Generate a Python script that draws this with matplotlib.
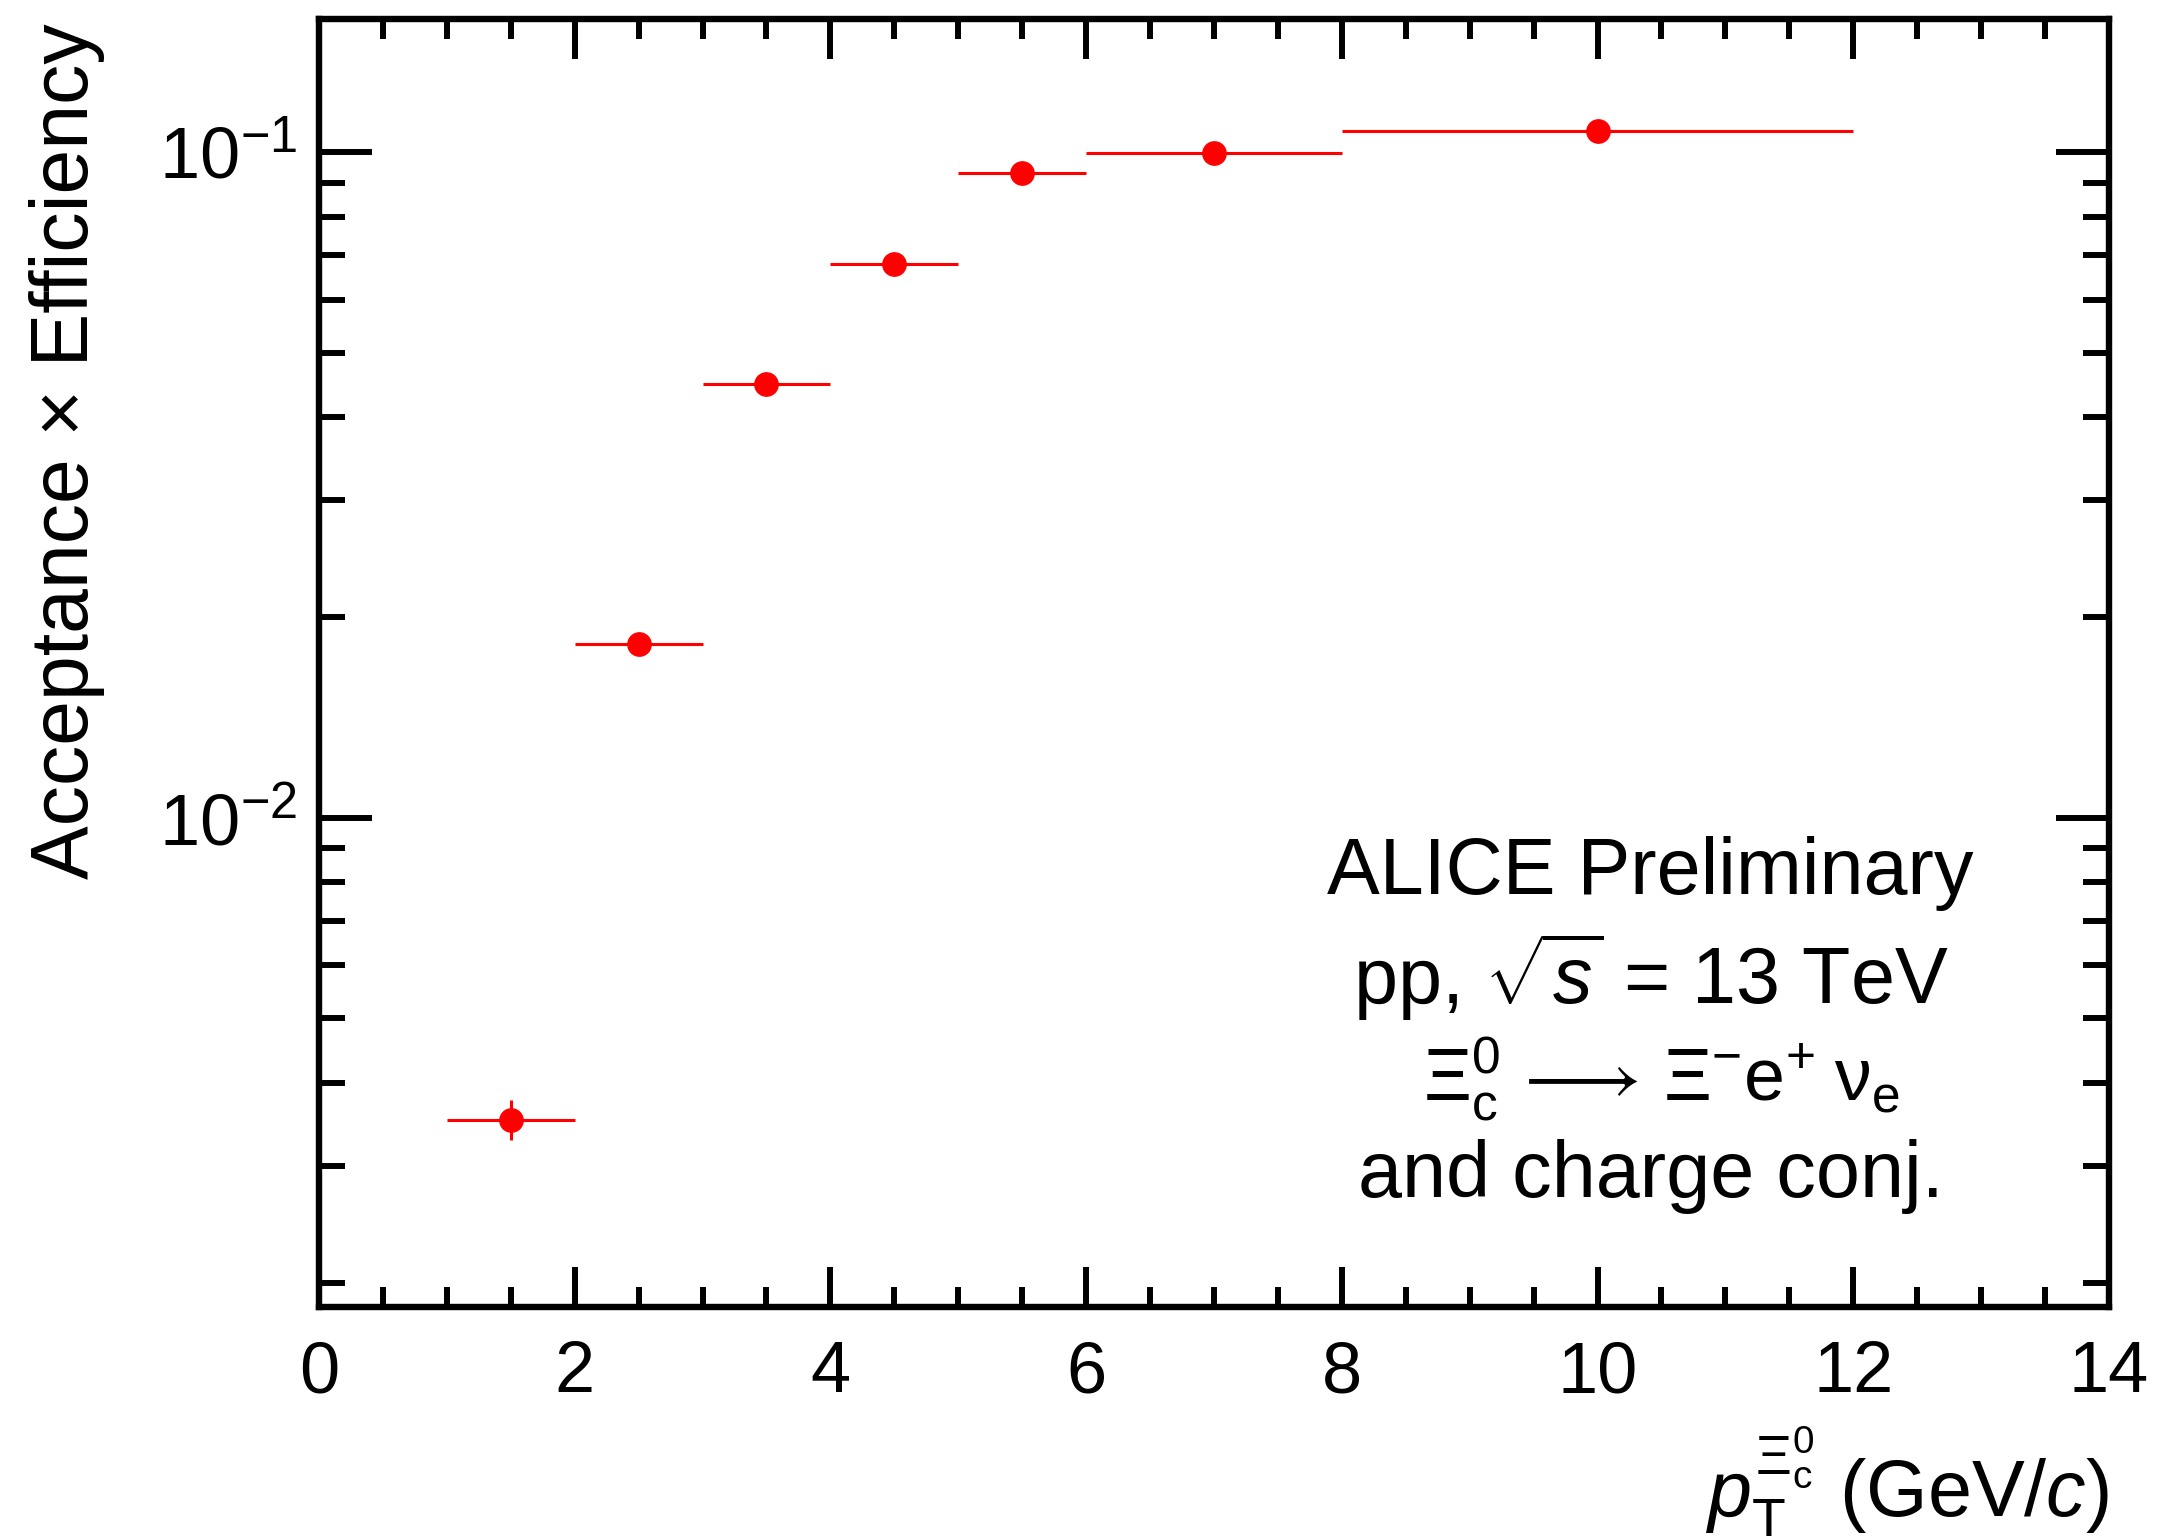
import numpy as np
import matplotlib
matplotlib.use('Agg')
import matplotlib.pyplot as plt
from matplotlib.ticker import MultipleLocator, LogLocator

plt.rcParams['font.family'] = ['Liberation Sans', 'DejaVu Sans']
plt.rcParams['mathtext.fontset'] = 'custom'
plt.rcParams['mathtext.rm'] = 'Liberation Sans'
plt.rcParams['mathtext.it'] = 'Liberation Sans:italic'
plt.rcParams['mathtext.bf'] = 'Liberation Sans:bold'

# pT bins and acceptance x efficiency
pt_lo = [1, 2, 3, 4, 5, 6, 8]
pt_hi = [2, 3, 4, 5, 6, 8, 12]
pt_c = [1.5, 2.5, 3.5, 4.5, 5.5, 7, 10]
acc_eff = [0.00352, 0.01822, 0.0449, 0.0679, 0.0930, 0.0998, 0.1078]
acc_err = [0.00024, 0.0004, 0.0006, 0.0008, 0.001, 0.001, 0.0012]

pt_c = np.array(pt_c)
xerr = [pt_c - np.array(pt_lo), np.array(pt_hi) - pt_c]

fig = plt.figure(figsize=(21.57, 15.36), dpi=100)
ax = fig.add_axes([0.1479, 0.1491, 0.9777 - 0.1479, 0.9876 - 0.1491])

ax.errorbar(pt_c, acc_eff, xerr=xerr, yerr=acc_err, fmt='o', color='red',
            ms=16.8, elinewidth=2.2, capsize=0, mec='red')

ax.set_yscale('log')
ax.set_xlim(0, 14)
ax.set_ylim(0.00184, 0.1586)

ax.xaxis.set_major_locator(MultipleLocator(2))
ax.xaxis.set_minor_locator(MultipleLocator(0.5))
ax.yaxis.set_major_locator(LogLocator(base=10))
ax.yaxis.set_minor_locator(LogLocator(base=10, subs=np.arange(2, 10)))

for s in ax.spines.values():
    s.set_linewidth(4.6)

ax.tick_params(axis='both', which='both', direction='in', top=True, right=True,
               width=4.3, labelsize=52)
ax.tick_params(axis='x', which='major', length=29, pad=24)
ax.tick_params(axis='x', which='minor', length=14.5)
ax.tick_params(axis='y', which='major', length=38, pad=16)
ax.tick_params(axis='y', which='minor', length=18.5)

ax.text(-0.1410, 0.997, 'Acceptance \u00d7 Efficiency', rotation=90,
        ha='center', va='top', fontsize=58, transform=ax.transAxes)
ax.text(1.0, -0.163, r'$p_{\rm T}^{\Xi_{\rm c}^{0}}$ (GeV/$c$)',
        ha='right', va='baseline', fontsize=57, transform=ax.transAxes)

tx = 0.744
ax.text(tx, 0.3206, 'ALICE Preliminary', ha='center', va='baseline',
        fontsize=57, transform=ax.transAxes)
ax.text(tx, 0.235, r'pp, $\sqrt{s}$ = 13 TeV', ha='center', va='baseline',
        fontsize=57, transform=ax.transAxes)
ax.text(tx + 0.006, 0.160,
        r'$\Xi_{\rm c}^{0}\,\longrightarrow\,\Xi^{-}{\rm e}^{+}\;{\rm \nu}_{\rm e}$',
        ha='center', va='baseline', fontsize=53, transform=ax.transAxes)
ax.text(tx, 0.0855, 'and charge conj.', ha='center', va='baseline',
        fontsize=57, transform=ax.transAxes)

fig.savefig('out.png', dpi=100)
